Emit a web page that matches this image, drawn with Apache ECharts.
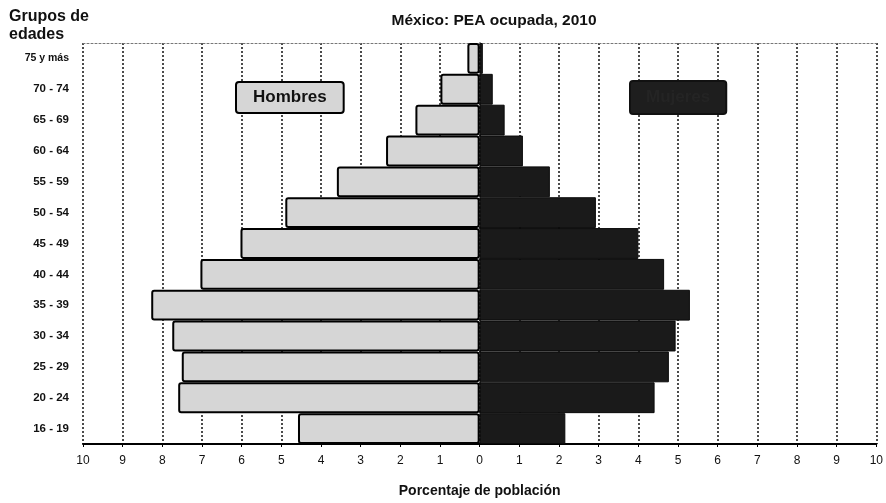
<!DOCTYPE html>
<html>
<head>
<meta charset="utf-8">
<script src="https://cdn.jsdelivr.net/npm/echarts@6/dist/echarts.min.js"></script>
<style>
html,body{margin:0;padding:0;background:#fff;overflow:hidden;}
#chart{width:886px;height:503px;}
</style>
</head>
<body>
<div id="chart"></div>
<script>
const categories = ['16 - 19','20 - 24','25 - 29','30 - 34','35 - 39','40 - 44','45 - 49','50 - 54','55 - 59','60 - 64','65 - 69','70 - 74','75 y más'];
const hombres = [4.58, 7.6, 7.51, 7.75, 8.28, 7.04, 6.03, 4.9, 3.6, 2.36, 1.62, 0.99, 0.31];
const mujeres = [2.16, 4.41, 4.77, 4.94, 5.3, 4.65, 4.0, 2.93, 1.77, 1.09, 0.63, 0.33, 0.08];
const xTicks = [-10, 10, 1];

const FONT = '"Liberation Sans", Arial, sans-serif';
const chart = echarts.init(document.getElementById('chart'));
chart.setOption({
  backgroundColor: '#fff',
  animation: false,
  title: [
    { text: 'México: PEA ocupada, 2010', left: 489, top: 8, textAlign: 'center',
      textStyle: { fontFamily: FONT, fontWeight: 'bold', fontSize: 15.5, color: '#111' } },
    { text: 'Grupos de\nedades', left: 4, top: 3,
      textStyle: { fontFamily: FONT, fontWeight: 'bold', fontSize: 16, color: '#111', lineHeight: 18 } }
  ],
  legend: [
    { data: ['Hombres'], left: 231, top: 81, padding: 0, itemWidth: 0, itemHeight: 0, itemGap: 0,
      selectedMode: false,
      textStyle: { fontFamily: FONT, fontWeight: 'bold', fontSize: 17, color: '#111',
        backgroundColor: '#d6d6d6', borderColor: '#000', borderWidth: 2, borderRadius: 2,
        padding: [6, 16, 6, 16] } },
    { data: ['Mujeres'], left: 625, top: 80, padding: 0, itemWidth: 0, itemHeight: 0, itemGap: 0,
      selectedMode: false,
      textStyle: { fontFamily: FONT, fontWeight: 'bold', fontSize: 17, color: '#242424',
        backgroundColor: '#1e1e1e', borderColor: '#111', borderWidth: 2, borderRadius: 2,
        padding: [7, 15, 7, 15] } }
  ],
  grid: { left: 83, right: 7, top: 43, bottom: 50, containLabel: false },
  xAxis: [
    { type: 'value', min: xTicks[0], max: xTicks[1], interval: xTicks[2], position: 'bottom',
      axisLine: { show: true, onZero: false, lineStyle: { color: '#000', width: 2 } },
      axisTick: { show: true, length: 3, lineStyle: { color: '#000' } },
      axisLabel: { formatter: v => Math.abs(v), fontFamily: FONT, fontSize: 12, color: '#111', margin: 11 },
      splitLine: { show: true, lineStyle: { color: '#111', type: [2, 2], width: 1.5 } },
      name: 'Porcentaje de población', nameLocation: 'middle', nameGap: 40,
      nameTextStyle: { fontFamily: FONT, fontWeight: 'bold', fontSize: 14, color: '#111' } },
    { type: 'value', min: xTicks[0], max: xTicks[1], interval: xTicks[2], position: 'top',
      axisLine: { show: true, onZero: false, lineStyle: { color: '#777', type: [2, 2], width: 1 } },
      axisTick: { show: false }, axisLabel: { show: false }, splitLine: { show: false } }
  ],
  yAxis: {
    type: 'category', data: categories,
    axisLine: { show: true, lineStyle: { color: '#111', type: [2, 2], width: 1.5 } },
    axisTick: { show: false },
    axisLabel: { fontFamily: FONT, fontWeight: 'bold', fontSize: 11.5, color: '#111', margin: 14,
      formatter: v => v === '75 y más' ? '{s|' + v + '}' : v,
      rich: { s: { fontFamily: FONT, fontWeight: 'bold', fontSize: 10.5, color: '#111' } } },
    splitLine: { show: false }
  },
  series: [
    { name: 'Hombres', type: 'bar', stack: 'p', barCategoryGap: '0%',
      data: hombres.map(v => -v),
      itemStyle: { color: '#d6d6d6', borderColor: '#000', borderWidth: 2, borderRadius: 2 } },
    { name: 'Mujeres', type: 'bar', stack: 'p', barCategoryGap: '0%',
      data: mujeres,
      itemStyle: { color: '#1a1a1a', borderColor: '#0a0a0a', borderWidth: 1 } }
  ]
});
</script>
</body>
</html>
